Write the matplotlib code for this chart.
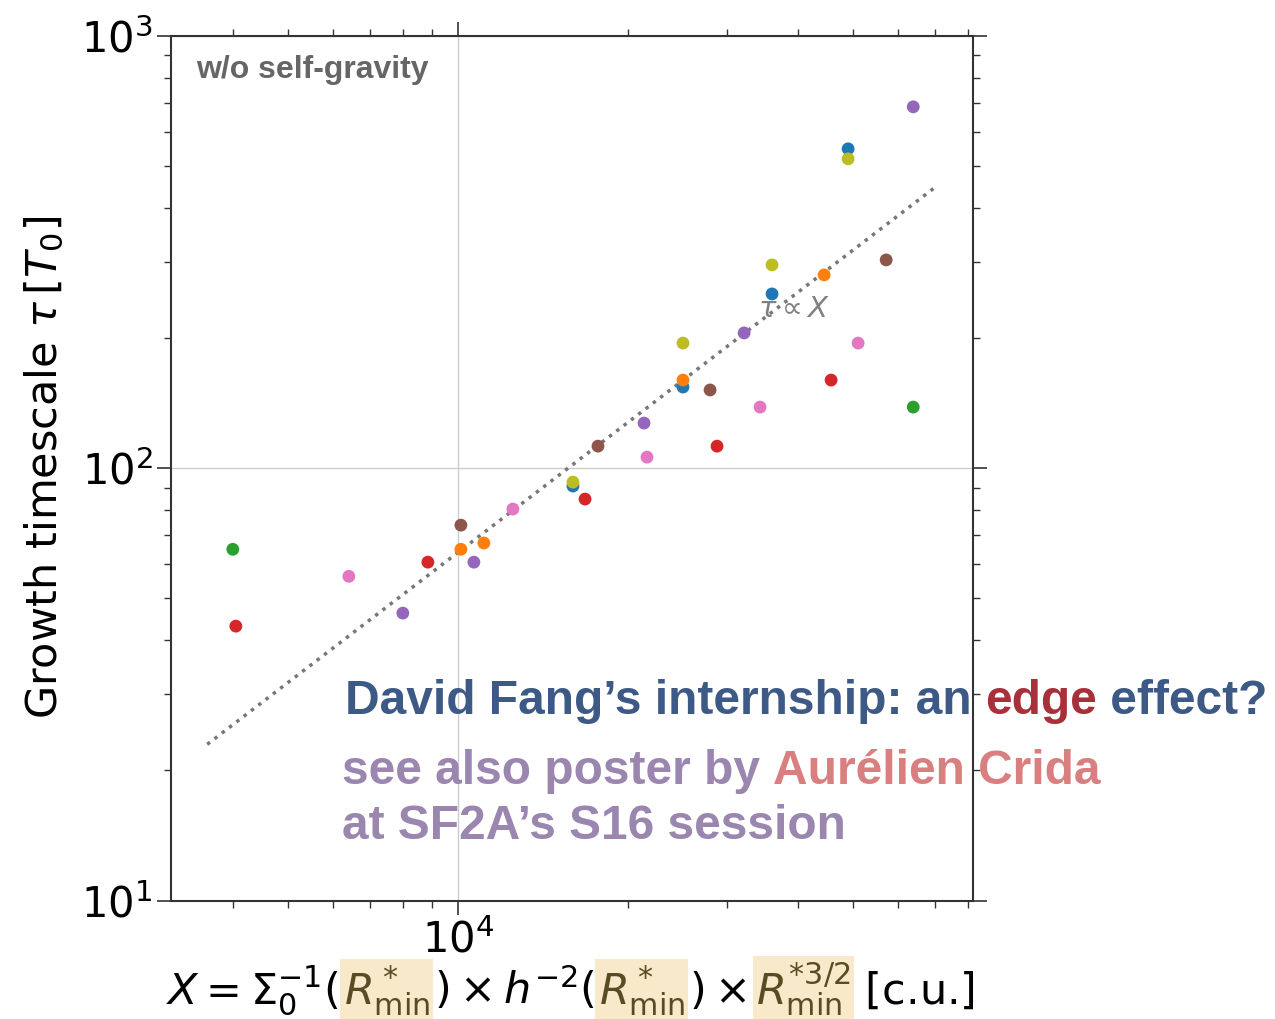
"""
growth timescale vs X, log-log scatter with tau ~ X guide
"""

import matplotlib
matplotlib.use("Agg")
import matplotlib.pyplot as plt
from matplotlib.ticker import NullFormatter

# values (X in c.u., tau in T0)
blue_x = [15984, 25026, 35975, 49050]
blue_y = [90.9, 154.0, 252.8, 547.5]
orange_x = [10123, 11117, 25026, 44480]
orange_y = [64.9, 67.1, 159.8, 279.8]
green_x = [3996, 63960]
green_y = [64.9, 138.4]
red_x = [4046, 8849, 16789, 28752, 45768]
red_y = [43.1, 60.6, 84.8, 112.4, 159.8]
purple_x = [7990, 10674, 21352, 32107, 63960]
purple_y = [46.2, 60.6, 127.1, 205.4, 684.7]
brown_x = [10123, 17699, 27946, 57280]
brown_y = [73.8, 112.4, 151.6, 303.0]
pink_x = [6412, 12513, 21613, 34262, 51090]
pink_y = [56.2, 80.4, 106.0, 138.4, 194.6]
olive_x = [15984, 25026, 35975, 49050]
olive_y = [92.8, 194.6, 295.1, 519.0]

# tau = k X guide line
fit_k = 0.00638
fit_x = [3600, 70000]

W, H = 1275, 1019
HL = "#f7e9c9"
R_COL = "#5a4c22"


def px(x, y_top):
    # pixel position (from top-left) -> figure fraction
    return x / W, 1 - y_top / H


def rainbow(fig, x, y_top, pieces, **kw):
    renderer = fig.canvas.get_renderer()
    for txt, col, hl, gap in pieces:
        fx, fy = px(x, y_top)
        t = fig.text(fx, fy, txt, color=col, ha="left", va="baseline", **kw)
        if hl:
            t.set_bbox(dict(boxstyle="square,pad=0.08", fc=HL, ec="none"))
        x += t.get_window_extent(renderer).width + gap


fig = plt.figure(figsize=(W / 100, H / 100), dpi=100)
ax = fig.add_axes([171.3 / W, 1 - 900.5 / H, (973.3 - 171.3) / W, (900.5 - 35.7) / H])

series = [
    (blue_x, blue_y, "tab:blue"),
    (orange_x, orange_y, "tab:orange"),
    (green_x, green_y, "tab:green"),
    (red_x, red_y, "tab:red"),
    (purple_x, purple_y, "tab:purple"),
    (brown_x, brown_y, "tab:brown"),
    (pink_x, pink_y, "tab:pink"),
    (olive_x, olive_y, "tab:olive"),
]
for xs, ys, c in series:
    ax.scatter(xs, ys, s=85, color=c, edgecolors="none", zorder=3)

ax.plot(fit_x, [fit_k * v for v in fit_x], ls=":", color="#777777", lw=2.5, zorder=2)
ax.text(33990, 233.4, r"$\tau \propto X$", color="#808080",
        fontsize=21, ha="left", va="center", zorder=1)

ax.set_xscale("log")
ax.set_yscale("log")
ax.set_xlim(3110, 81700)
ax.set_ylim(10, 1000)
ax.xaxis.set_minor_formatter(NullFormatter())
ax.yaxis.set_minor_formatter(NullFormatter())
ax.grid(True, which="major", color="#cccccc", lw=1)
ax.set_axisbelow(True)
ax.tick_params(which="both", direction="out", top=True, right=True, labelsize=30, colors="#333333", labelcolor="black")
ax.tick_params(which="major", length=10, width=1.2)
ax.tick_params(which="minor", length=5, width=1)
for s in ax.spines.values():
    s.set_color("#333333")
    s.set_linewidth(1.5)

ax.text(0.0308, 0.978, "w/o self-gravity", transform=ax.transAxes, fontsize=23,
        fontweight="bold", family="Liberation Sans", color="#666666", ha="left", va="top")

fx, fy = px(45, 467)
fig.text(fx, fy, r"Growth timescale $\tau\,[T_0]$", rotation=90, ha="center", va="center", fontsize=31)

# x label with highlighted R*_min pieces
rainbow(fig, 166, 1004, [
    (r"$X = \Sigma_0^{-1}($", "black", False, 5),
    (r"$R^*_{\mathrm{min}}$", R_COL, True, 4),
    (r"$) \times h^{-2}($", "black", False, 4),
    (r"$R^*_{\mathrm{min}}$", R_COL, True, 4),
    (r"$)\times$", "black", False, 10),
    (r"$R^{*3/2}_{\mathrm{min}}$", R_COL, True, 0),
    (r"$\ $[c.u.]", "black", False, 0),
], fontsize=31)

# slide overlay text
blue_t, red_t, purp_t, pink_t = "#3d5a87", "#a8303a", "#9a86ae", "#d97f7f"
bold = dict(fontsize=34.5, fontweight="bold", family="Liberation Sans")
rainbow(fig, 345, 714, [
    ("David Fang\u2019s internship: an ", blue_t, False, 0),
    ("edge", red_t, False, 0),
    (" effect?", blue_t, False, 0),
], **bold)
rainbow(fig, 342, 784, [
    ("see also poster by ", purp_t, False, 0),
    ("Aur\u00e9lien Crida", pink_t, False, 0),
], **bold)
rainbow(fig, 342, 839, [
    ("at SF2A\u2019s S16 session", purp_t, False, 0),
], **bold)

fig.savefig("out.png", dpi=100)
